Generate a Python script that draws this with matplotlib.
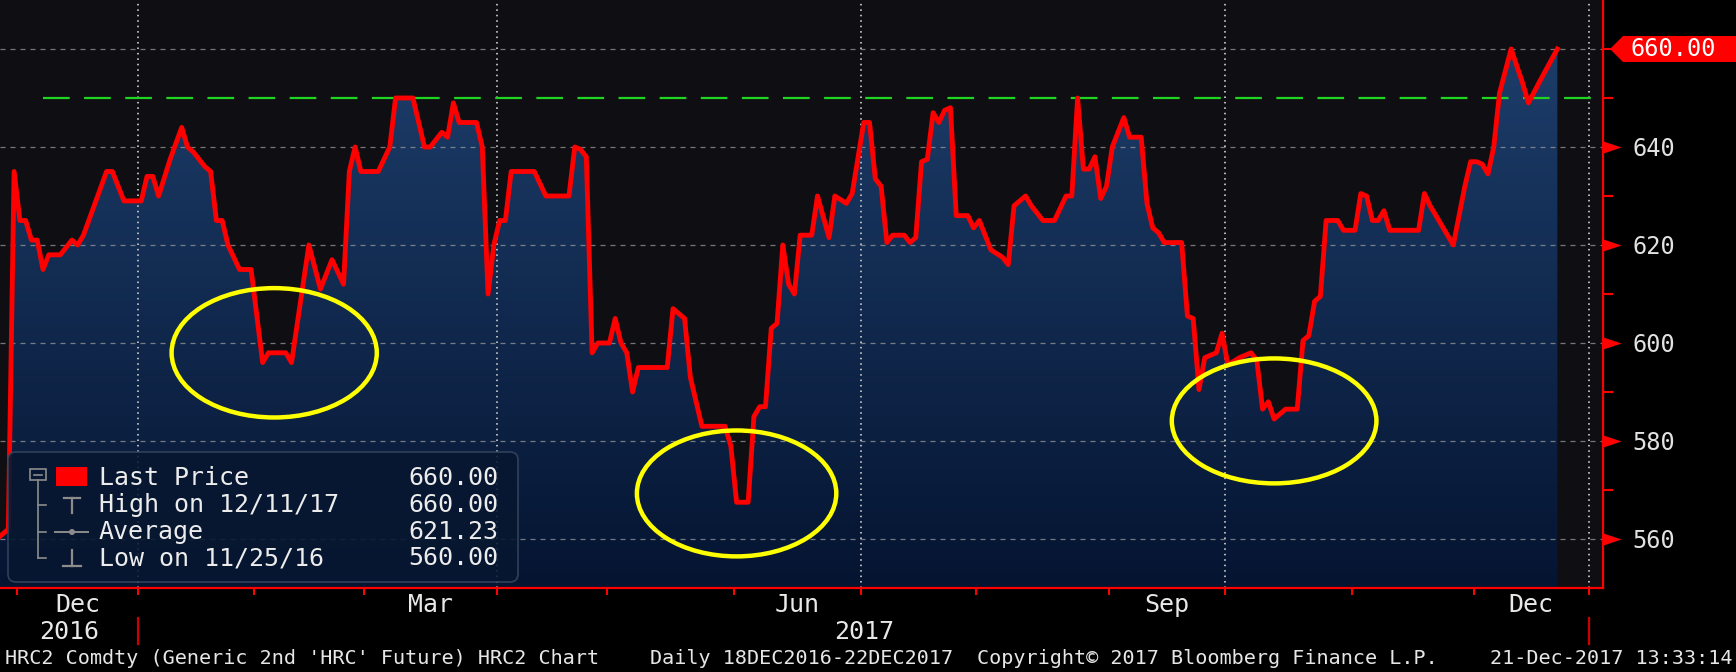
import numpy as np
import matplotlib.pyplot as plt
from matplotlib.colors import LinearSegmentedColormap
from matplotlib.patches import Ellipse, FancyBboxPatch, Polygon, Rectangle, Circle
from matplotlib.lines import Line2D
from matplotlib.transforms import Affine2D, blended_transform_factory as blend

# trading calendar (x axis is trading days, like the terminal chart)
holidays = ['2016-12-26', '2017-01-02', '2017-01-16', '2017-02-20', '2017-04-14',
            '2017-05-29', '2017-07-04', '2017-09-04', '2017-11-23', '2017-12-25']
origin = '2016-11-28'

dates = ['2016-11-25', '2016-11-28', '2016-11-29', '2016-11-30', '2016-12-01', '2016-12-02',
         '2016-12-05', '2016-12-06', '2016-12-07', '2016-12-08', '2016-12-12', '2016-12-14',
         '2016-12-15', '2016-12-16', '2016-12-20', '2016-12-22', '2016-12-23', '2016-12-28',
         '2017-01-03', '2017-01-04', '2017-01-05', '2017-01-06', '2017-01-10', '2017-01-12',
         '2017-01-13', '2017-01-17', '2017-01-19', '2017-01-20', '2017-01-23', '2017-01-24',
         '2017-01-25', '2017-01-27', '2017-01-31', '2017-02-02', '2017-02-03', '2017-02-08',
         '2017-02-09', '2017-02-14', '2017-02-16', '2017-02-21', '2017-02-23', '2017-02-24',
         '2017-02-27', '2017-02-28', '2017-03-03', '2017-03-07', '2017-03-08', '2017-03-13',
         '2017-03-15', '2017-03-16', '2017-03-20', '2017-03-21', '2017-03-22', '2017-03-23',
         '2017-03-28', '2017-03-29', '2017-03-30', '2017-03-31', '2017-04-03', '2017-04-04',
         '2017-04-05', '2017-04-11', '2017-04-13', '2017-04-20', '2017-04-21', '2017-04-24',
         '2017-04-25', '2017-04-26', '2017-04-27', '2017-05-01', '2017-05-02', '2017-05-03',
         '2017-05-04', '2017-05-05', '2017-05-08', '2017-05-15', '2017-05-16', '2017-05-18',
         '2017-05-19', '2017-05-23', '2017-05-30', '2017-05-31', '2017-06-01', '2017-06-05',
         '2017-06-06', '2017-06-07', '2017-06-08', '2017-06-09', '2017-06-12', '2017-06-13',
         '2017-06-14', '2017-06-15', '2017-06-16', '2017-06-20', '2017-06-21', '2017-06-23',
         '2017-06-26', '2017-06-28', '2017-06-29', '2017-07-03', '2017-07-05', '2017-07-06',
         '2017-07-07', '2017-07-10', '2017-07-11', '2017-07-13', '2017-07-14', '2017-07-17',
         '2017-07-18', '2017-07-19', '2017-07-20', '2017-07-21', '2017-07-24', '2017-07-25',
         '2017-07-26', '2017-07-28', '2017-07-31', '2017-08-01', '2017-08-03', '2017-08-07',
         '2017-08-08', '2017-08-09', '2017-08-11', '2017-08-14', '2017-08-16', '2017-08-18',
         '2017-08-22', '2017-08-23', '2017-08-24', '2017-08-25', '2017-08-28', '2017-08-29',
         '2017-08-30', '2017-08-31', '2017-09-01', '2017-09-06', '2017-09-07', '2017-09-11',
         '2017-09-12', '2017-09-13', '2017-09-14', '2017-09-15', '2017-09-20', '2017-09-21',
         '2017-09-22', '2017-09-25', '2017-09-26', '2017-09-28', '2017-09-29', '2017-10-02',
         '2017-10-04', '2017-10-06', '2017-10-09', '2017-10-10', '2017-10-11', '2017-10-12',
         '2017-10-16', '2017-10-18', '2017-10-19', '2017-10-20', '2017-10-23', '2017-10-24',
         '2017-10-25', '2017-10-27', '2017-10-30', '2017-11-01', '2017-11-02', '2017-11-03',
         '2017-11-06', '2017-11-07', '2017-11-08', '2017-11-09', '2017-11-16', '2017-11-17',
         '2017-11-20', '2017-11-27', '2017-11-29', '2017-11-30', '2017-12-01', '2017-12-04',
         '2017-12-05', '2017-12-06', '2017-12-07', '2017-12-11', '2017-12-13', '2017-12-14',
         '2017-12-18', '2017-12-21']
prices = [560, 561, 562, 635, 625, 625,
          621, 621, 615, 618, 618, 621,
          620, 622, 628.5, 635, 635, 629,
          629, 634, 634, 630, 637.5, 644,
          640, 639, 636, 635, 625, 625,
          620, 615, 615, 596, 598, 598,
          596, 620, 611, 617, 612, 635,
          640, 635, 635, 640, 650, 650,
          640, 640, 643, 642, 649, 645,
          645, 640, 610, 620, 625, 625,
          635, 635, 630, 630, 640, 639.5,
          638, 598, 600, 600, 605, 600,
          598, 590, 595, 595, 607, 605,
          593, 583, 583, 579, 567.5, 567.5,
          585, 587, 587, 603, 604, 620,
          612, 610, 622, 622, 630, 621.5,
          630, 628.5, 630.5, 645, 645, 633.5,
          632, 620.5, 622, 622, 620.5, 621.5,
          637, 637.5, 647, 645, 647.5, 648,
          626, 626, 623.5, 625, 619, 617.5,
          616, 628, 630, 628, 625, 625,
          630, 630, 650, 635.5, 635.5, 638,
          629.5, 632, 640, 646, 642, 642,
          628.5, 623.5, 622.5, 620.5, 620.5, 605.5,
          605, 590.5, 597, 598, 602, 595.5,
          597, 598, 596.5, 586.5, 588, 584.5,
          586.5, 586.5, 600.5, 601.5, 608.5, 609.5,
          625, 625, 623, 623, 630.5, 630,
          625, 625, 627, 623, 623, 630.5,
          628, 620, 632, 637, 637, 636.5,
          634.5, 640, 651, 660, 653, 649,
          653.5, 660]

resistance = 650
resistance_from = '2016-12-07'

circle_dates = ['2017-02-06', '2017-06-01', '2017-10-12']
circle_levels = [598, 569.3, 584.1]
circle_widths = [35.5, 34.5, 35.4]   # trading days
circle_heights = [26.4, 25.7, 25.5]  # price units

month_starts = ['2016-12-01', '2017-01-01', '2017-02-01', '2017-03-01', '2017-04-01',
                '2017-05-01', '2017-06-01', '2017-07-01', '2017-08-01', '2017-09-01',
                '2017-10-01', '2017-11-01', '2017-12-01', '2018-01-01']
month_labels = {0: 'Dec', 3: 'Mar', 6: 'Jun', 9: 'Sep', 12: 'Dec'}

legend_labels = ['Last Price', 'High on 12/11/17', 'Average', 'Low on 11/25/16']
legend_values = ['660.00', '660.00', '621.23', '560.00']

footer = ["HRC2 Comdty (Generic 2nd 'HRC' Future) HRC2 Chart",
          'Daily 18DEC2016-22DEC2017',
          'Copyright\u00a9 2017 Bloomberg Finance L.P.',
          '21-Dec-2017 13:33:14']


def td(d):
    return np.busday_count(origin, np.asarray(d, dtype='datetime64[D]'),
                           holidays=holidays).astype(float)


MONO = 'DejaVu Sans Mono'
W, H = 1736, 672
XLIM = (-0.44, 276.9)
x = td(dates)
bounds = td(month_starts) - 0.5

fig = plt.figure(figsize=(W / 100, H / 100), dpi=100, facecolor='black')
pix = Affine2D().scale(1 / W, -1 / H).translate(0, 1) + fig.transFigure
ax = fig.add_axes([0, 1 - 588 / H, 1603 / W, 588 / H])
ax.set_facecolor('#0f0f13')

# gradient area under the price
fill = ax.fill_between(x, prices, 550, facecolor='none', edgecolor='none')
cmap = LinearSegmentedColormap.from_list('hrc', ['#051431', '#1d3e6b'])
im = ax.imshow(np.linspace(0, 1, 256).reshape(-1, 1), extent=[x[0], x[-1], 550, 662],
               origin='lower', aspect='auto', cmap=cmap, zorder=1, interpolation='bilinear')
im.set_clip_path(fill.get_paths()[0], transform=ax.transData)

for v in range(560, 661, 20):
    ax.axhline(v, color='#9a9a9a', lw=0.9, ls=(0, (4, 4)), alpha=0.75, zorder=2)
for b in bounds[[1, 4, 7, 10, 13]]:
    ax.axvline(b, color='#b8b8b8', lw=1.4, ls=(0, (0.8, 2.0)), zorder=2)

ax.hlines(resistance, td(resistance_from), XLIM[1], color='#1fd51f', lw=1.6,
          ls=(0, (12, 6.5)), zorder=3)

ax.plot(x, prices, color='#ff0000', lw=3.5, zorder=4, solid_joinstyle='round')

for d, lv, w, h in zip(circle_dates, circle_levels, circle_widths, circle_heights):
    ax.add_patch(Ellipse((td(d), lv), w, h, fill=False, ec='#ffff00', lw=3.2, zorder=5))

ax.set_xlim(*XLIM)
ax.set_ylim(550, 670)

for s in ['top', 'left']:
    ax.spines[s].set_visible(False)
for s in ['bottom', 'right']:
    ax.spines[s].set_color('#ff0000')
    ax.spines[s].set_linewidth(1.6)

ax.set_xticks(bounds)
ax.tick_params(axis='x', colors='#ff0000', length=5, width=1.5, labelbottom=False)

ax.yaxis.tick_right()
ax.set_yticks([560, 580, 600, 620, 640])
ax.set_yticks([570, 590, 610, 630, 650, 660], minor=True)
ax.tick_params(axis='y', which='major', length=0, pad=21, labelcolor='#e2e2e2', labelsize=17)
ax.tick_params(axis='y', which='minor', length=7, width=1.5, color='#ff0000')
for t in ax.get_yticklabels():
    t.set_fontfamily(MONO)
flag = [(0, 2), (0, -2), (6, 0), (0, 2)]
ax.plot(np.ones(5), [560, 580, 600, 620, 640], ls='none', marker=flag, ms=26,
        color='#ff0000', mec='none', transform=blend(ax.transAxes, ax.transData), clip_on=False)

# month / year labels under the axis
xfig = blend(ax.transData, pix)
mids = (bounds[:-1] + bounds[1:]) / 2
for i, name in month_labels.items():
    ax.text(mids[i], 605, name, transform=xfig, ha='center', va='center',
            color='#e8e8e8', fontsize=18, family=MONO)
ax.text((XLIM[0] + bounds[1]) / 2, 632, '2016', transform=xfig, ha='center', va='center',
        color='#e8e8e8', fontsize=18, family=MONO)
ax.text((bounds[1] + bounds[13]) / 2, 632, '2017', transform=xfig, ha='center', va='center',
        color='#e8e8e8', fontsize=18, family=MONO)
for b in (bounds[1], bounds[13]):
    ax.add_line(Line2D([b, b], [618, 644], color='#cc0000', lw=1.6, transform=xfig, clip_on=False))

# last price tag
ytag = H - ax.transData.transform((0, prices[-1]))[1]
fig.add_artist(Polygon([(1610, ytag), (1623, ytag - 13), (1736, ytag - 13), (1736, ytag + 13),
                        (1623, ytag + 13)], closed=True, fc='#ff0000', ec='none', transform=pix))
fig.text(1630, ytag, f'{prices[-1]:.2f}', transform=pix, ha='left', va='center',
         color='white', fontsize=17, family=MONO)

# legend panel
fig.add_artist(FancyBboxPatch((8, 452), 510, 130, boxstyle='round,pad=0,rounding_size=8',
                              fc='#081730', ec='#34465f', lw=1.2, alpha=0.88, transform=pix))
gray = '#8c8c8c'
rows = [478, 505, 532, 558]
fig.add_artist(Rectangle((30, 469), 16, 11, fill=False, ec=gray, lw=1.2, transform=pix))
fig.add_artist(Line2D([34, 42], [474.5, 474.5], color=gray, lw=1.2, transform=pix))
fig.add_artist(Line2D([38, 38], [480, rows[3]], color=gray, lw=1.2, transform=pix))
for r in rows[1:]:
    fig.add_artist(Line2D([38, 46], [r, r], color=gray, lw=1.2, transform=pix))
fig.add_artist(Rectangle((56, 467), 31, 19, fc='#ff0000', ec='none', transform=pix))
fig.add_artist(Line2D([64, 80], [498, 498], color=gray, lw=1.6, transform=pix))
fig.add_artist(Line2D([72, 72], [498, 513], color=gray, lw=1.6, transform=pix))
fig.add_artist(Line2D([55, 88], [rows[2], rows[2]], color=gray, lw=1.4, transform=pix))
fig.add_artist(Circle((72, rows[2]), 3, fc=gray, ec='none', transform=pix))
fig.add_artist(Line2D([72, 72], [550, 566], color=gray, lw=1.6, transform=pix))
fig.add_artist(Line2D([63, 81], [566, 566], color=gray, lw=1.6, transform=pix))
for r, lab, val in zip(rows, legend_labels, legend_values):
    fig.text(99, r, lab, transform=pix, ha='left', va='center', color='#ececec',
             fontsize=18, family=MONO)
    fig.text(498, r, val, transform=pix, ha='right', va='center', color='#ececec',
             fontsize=18, family=MONO)

# footer line
for xp, txt, ha in zip([5, 650, 977, 1733], footer, ['left', 'left', 'left', 'right']):
    fig.text(xp, 659, txt, transform=pix, ha=ha, va='center', color='#e6e6e6',
             fontsize=14.5, family=MONO)

fig.savefig('out.png', dpi=100, facecolor='black')
